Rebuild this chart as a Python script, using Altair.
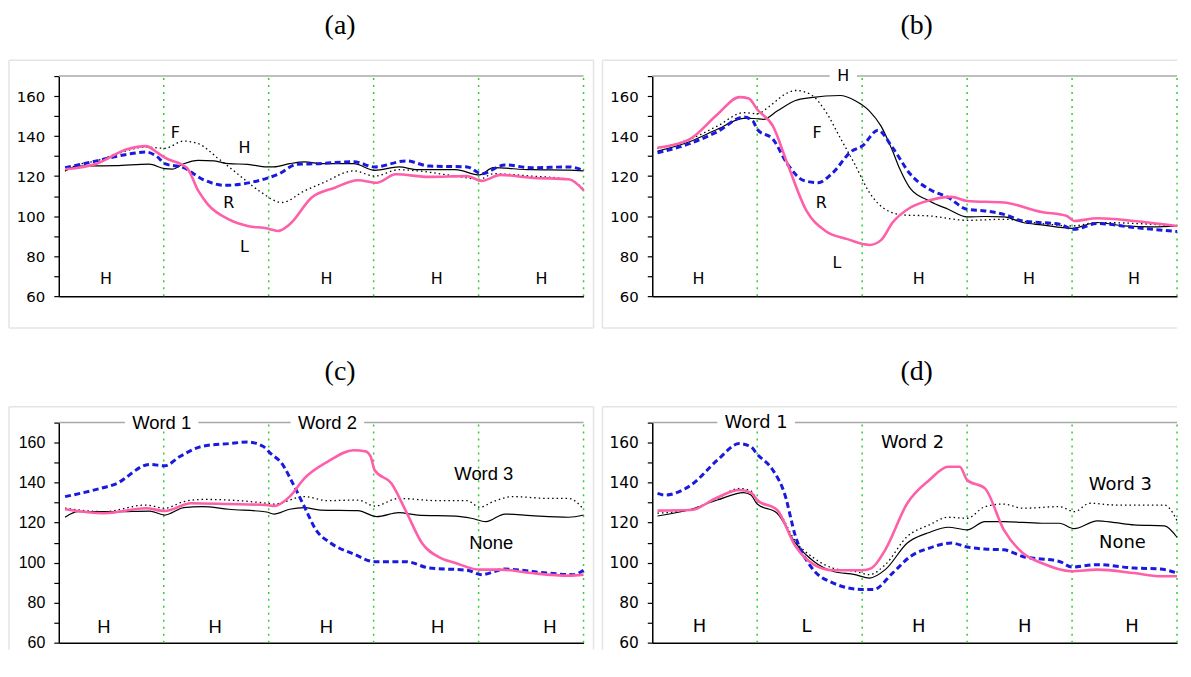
import altair as alt
import pandas as pd

# ---------------- data (x in segment units 0..5, y in Hz) ----------------
# Panel (a)
A_SOLID_X = [0.06, 0.18, 0.54, 0.86, 1.01, 1.08, 1.19, 1.33, 1.48, 1.62, 1.80, 1.98, 2.05, 2.20, 2.34, 2.52, 2.81, 3.01, 3.24, 3.42, 3.78, 4.01, 4.14, 4.50, 4.86, 5.0]
A_SOLID_Y = [122.6, 125.0, 125.2, 126.0, 123.7, 123.5, 126.2, 127.9, 127.6, 126.2, 125.9, 124.6, 124.6, 126.2, 127.1, 126.2, 126.2, 122.9, 124.6, 123.2, 123.2, 120.6, 124.2, 123.2, 123.0, 122.6]
A_DOT_X = [0.06, 0.18, 0.36, 0.54, 0.83, 1.01, 1.19, 1.33, 1.51, 1.69, 1.91, 2.125, 2.34, 2.52, 2.81, 3.01, 3.24, 3.42, 3.78, 4.01, 4.14, 4.50, 4.86, 5.0]
A_DOT_Y = [122.6, 125.6, 127.6, 130.9, 134.5, 133.9, 137.5, 136.2, 129.2, 121.7, 112.6, 106.8, 112.6, 116.7, 122.6, 120.0, 123.2, 122.6, 120.0, 118.4, 121.2, 120.0, 118.4, 113.4]
A_DASH_X = [0.06, 0.36, 0.65, 0.83, 0.94, 1.01, 1.19, 1.37, 1.585, 1.765, 1.98, 2.09, 2.27, 2.45, 2.81, 3.01, 3.31, 3.53, 3.89, 4.03, 4.25, 4.50, 4.86, 5.0]
A_DASH_Y = [124.2, 127.6, 130.9, 132.0, 129.6, 126.2, 124.2, 118.4, 115.4, 116.2, 118.9, 120.9, 125.9, 126.2, 127.2, 124.6, 127.6, 125.0, 124.6, 121.2, 125.6, 124.2, 124.6, 122.9]
A_PINK_X = [0.06, 0.36, 0.65, 0.83, 0.94, 1.01, 1.22, 1.33, 1.42, 1.62, 1.80, 1.98, 2.09, 2.20, 2.41, 2.63, 2.85, 3.03, 3.21, 3.53, 3.89, 4.03, 4.21, 4.50, 4.86, 5.0]
A_PINK_Y = [123.4, 126.2, 133.4, 135.0, 131.7, 129.2, 124.2, 112.6, 105.9, 98.4, 95.1, 93.9, 92.6, 95.9, 109.3, 114.2, 117.9, 116.7, 120.9, 119.6, 120.0, 117.6, 120.6, 119.2, 118.4, 112.9]
A_LABELS = ["F", "H", "R", "L", "H", "H", "H", "H"]
A_LABEL_X = [1.11, 1.77, 1.62, 1.77, 0.45, 2.55, 3.60, 4.60]
A_LABEL_Y = [141.7, 133.9, 106.4, 84.8, 68.5, 68.5, 68.5, 68.5]

# Panel (b)
B_SOLID_X = [0.05, 0.355, 0.62, 0.87, 0.975, 1.06, 1.19, 1.365, 1.51, 1.79, 1.93, 2.07, 2.18, 2.29, 2.36, 2.46, 2.64, 2.82, 3.0, 3.17, 3.35, 3.53, 3.71, 4.0, 4.24, 4.49, 4.77, 5.0]
B_SOLID_Y = [132.5, 137.2, 143.4, 148.9, 148.8, 148.4, 152.5, 157.8, 159.2, 160.3, 157.8, 152.5, 145.0, 132.5, 123.4, 113.7, 107.6, 103.4, 99.6, 99.8, 99.6, 96.8, 95.6, 93.9, 96.8, 95.1, 94.6, 95.1]
B_DOT_X = [0.05, 0.355, 0.62, 0.87, 1.0, 1.12, 1.26, 1.365, 1.51, 1.65, 1.79, 1.93, 2.07, 2.22, 2.39, 2.64, 3.0, 3.35, 3.71, 4.0, 4.24, 4.77, 5.0]
B_DOT_Y = [133.9, 138.4, 145.0, 151.7, 151.2, 155.0, 160.8, 162.8, 160.8, 152.5, 139.2, 125.9, 111.7, 103.4, 100.6, 100.1, 97.9, 98.4, 96.3, 95.1, 96.8, 95.9, 95.1]
B_DASH_X = [0.05, 0.355, 0.62, 0.87, 0.96, 1.0, 1.15, 1.29, 1.44, 1.58, 1.72, 1.90, 2.0, 2.15, 2.29, 2.46, 2.64, 2.82, 3.0, 3.17, 3.35, 3.53, 3.88, 4.02, 4.24, 4.59, 5.0]
B_DASH_Y = [131.7, 136.2, 142.2, 149.5, 147.5, 143.4, 138.4, 125.9, 117.9, 116.7, 121.7, 132.5, 135.0, 142.9, 134.2, 120.9, 113.4, 109.3, 103.4, 102.6, 100.9, 97.6, 95.9, 93.4, 96.3, 94.3, 92.3]
B_PINK_X = [0.05, 0.355, 0.62, 0.83, 0.92, 1.0, 1.15, 1.29, 1.47, 1.65, 1.86, 2.07, 2.18, 2.29, 2.46, 2.64, 2.85, 3.0, 3.35, 3.71, 3.95, 4.02, 4.24, 4.59, 5.0]
B_PINK_Y = [134.2, 138.4, 150.8, 159.5, 158.8, 153.3, 145.0, 125.9, 102.6, 92.6, 88.5, 85.6, 88.0, 96.8, 104.3, 107.9, 109.6, 107.6, 106.8, 102.1, 100.1, 97.6, 98.9, 97.6, 95.1]
B_LABELS = ["H", "F", "R", "L", "H", "H", "H", "H"]
B_LABEL_X = [1.82, 1.57, 1.61, 1.76, 0.44, 2.54, 3.59, 4.59]
B_LABEL_Y = [170.0, 141.7, 106.4, 76.5, 68.5, 68.5, 68.5, 68.5]

# Panel (c)
C_SOLID_X = [0.06, 0.18, 0.54, 0.865, 1.01, 1.19, 1.37, 1.62, 1.98, 2.05, 2.20, 2.34, 2.49, 2.85, 3.03, 3.24, 3.42, 3.78, 3.93, 4.07, 4.25, 4.50, 4.86, 5.0]
C_SOLID_Y = [122.7, 125.5, 125.5, 125.8, 123.8, 127.5, 128.0, 126.7, 125.3, 124.3, 126.7, 127.5, 126.3, 126.0, 123.0, 125.0, 123.8, 123.3, 122.2, 120.5, 124.3, 123.5, 122.7, 123.8]
C_DOT_X = [0.06, 0.43, 0.83, 1.01, 1.19, 1.37, 1.62, 1.98, 2.05, 2.34, 2.56, 2.85, 3.01, 3.24, 3.60, 3.89, 4.01, 4.14, 4.32, 4.68, 4.86, 5.0]
C_DOT_Y = [127.2, 125.5, 128.8, 127.2, 130.5, 131.6, 131.3, 129.7, 129.3, 133.0, 131.0, 131.3, 128.3, 132.1, 131.0, 131.0, 127.7, 130.5, 133.0, 132.1, 132.1, 126.7]
C_DASH_X = [0.06, 0.36, 0.54, 0.865, 1.01, 1.15, 1.37, 1.62, 1.80, 1.945, 2.02, 2.125, 2.23, 2.34, 2.45, 2.59, 2.81, 3.01, 3.31, 3.53, 3.89, 4.03, 4.25, 4.575, 4.90, 5.0]
C_DASH_Y = [133.0, 136.6, 139.3, 149.1, 148.4, 152.9, 158.2, 159.5, 160.3, 158.2, 154.5, 149.6, 139.6, 128.0, 116.4, 109.8, 104.3, 100.5, 100.5, 97.3, 96.2, 94.0, 96.8, 95.2, 94.0, 96.2]
C_PINK_X = [0.06, 0.43, 0.83, 1.01, 1.26, 1.62, 1.98, 2.05, 2.20, 2.34, 2.56, 2.81, 2.92, 2.97, 3.01, 3.17, 3.31, 3.46, 3.64, 3.78, 4.01, 4.21, 4.50, 4.86, 5.0]
C_PINK_Y = [126.7, 124.7, 127.2, 125.8, 129.7, 129.3, 128.8, 128.3, 133.0, 142.1, 150.4, 156.2, 155.7, 153.2, 146.2, 139.6, 125.5, 109.8, 102.3, 99.8, 96.5, 96.5, 94.8, 93.5, 94.0]
C_LABELS = ["Word 1", "Word 2", "Word 3", "None", "H", "H", "H", "H", "H"]
C_LABEL_X = [0.98, 2.56, 4.05, 4.12, 0.43, 1.49, 2.55, 3.61, 4.68]
C_LABEL_Y = [170.0, 170.0, 144.2, 109.8, 68.0, 68.0, 68.0, 68.0, 68.0]

# Panel (d)
D_SOLID_X = [0.05, 0.37, 0.62, 0.87, 0.94, 1.0, 1.19, 1.365, 1.54, 1.72, 1.93, 2.07, 2.22, 2.43, 2.64, 2.82, 3.0, 3.17, 3.35, 3.71, 3.88, 4.02, 4.24, 4.41, 4.59, 4.88, 5.0]
D_SOLID_Y = [123.3, 126.7, 131.3, 135.0, 133.8, 129.3, 124.7, 109.8, 100.6, 95.7, 94.0, 92.3, 96.5, 109.8, 115.1, 117.7, 116.4, 120.5, 120.5, 119.7, 119.7, 117.0, 120.9, 120.0, 118.9, 118.4, 112.7]
D_DOT_X = [0.05, 0.37, 0.62, 0.83, 0.94, 1.0, 1.19, 1.365, 1.54, 1.72, 1.93, 2.07, 2.22, 2.43, 2.64, 2.82, 3.0, 3.17, 3.35, 3.53, 3.88, 4.02, 4.17, 4.41, 4.88, 5.0]
D_DOT_Y = [124.7, 126.7, 132.1, 137.1, 135.9, 131.0, 126.3, 110.6, 102.3, 97.3, 95.7, 94.0, 99.0, 113.1, 118.9, 122.7, 122.2, 128.0, 129.3, 127.2, 128.0, 125.5, 129.7, 128.8, 128.8, 121.0]
D_DASH_X = [0.05, 0.12, 0.37, 0.62, 0.83, 0.94, 1.0, 1.15, 1.26, 1.365, 1.51, 1.72, 2.0, 2.11, 2.29, 2.46, 2.64, 2.85, 3.0, 3.17, 3.35, 3.53, 3.88, 4.0, 4.24, 4.59, 4.84, 5.0]
D_DASH_Y = [134.6, 133.8, 138.8, 151.2, 159.5, 157.9, 154.2, 146.2, 134.6, 113.1, 98.1, 89.9, 86.6, 86.6, 94.8, 103.1, 107.3, 109.8, 107.8, 106.8, 106.4, 103.1, 100.6, 97.8, 99.0, 97.3, 96.8, 94.8]
D_PINK_X = [0.05, 0.37, 0.62, 0.83, 0.94, 1.0, 1.19, 1.365, 1.54, 1.72, 2.0, 2.09, 2.22, 2.43, 2.64, 2.82, 2.93, 3.0, 3.17, 3.35, 3.53, 3.71, 3.99, 4.24, 4.59, 4.84, 5.0]
D_PINK_Y = [126.0, 126.3, 132.6, 136.3, 135.0, 131.3, 126.3, 108.2, 99.0, 96.2, 96.2, 97.3, 106.4, 129.7, 141.3, 147.9, 147.9, 141.3, 137.1, 116.4, 104.8, 99.8, 95.7, 96.5, 94.8, 93.2, 93.2]
D_LABELS = ["Word 1", "Word 2", "Word 3", "None", "H", "L", "H", "H", "H"]
D_LABEL_X = [0.99, 2.48, 4.46, 4.48, 0.45, 1.47, 2.54, 3.55, 4.57]
D_LABEL_Y = [170.0, 160.0, 138.8, 109.8, 68.0, 68.0, 68.0, 68.0, 68.0]

BOUNDARIES = [1, 2, 3, 4, 5]
Y_TICKS = list(range(60, 171, 10))

# ---------------- styling ----------------
W, H = 527, 221
PINK = "#ff5fa8"
BLUE = "#1a1ade"
GREEN = "#33cc33"
FRAME = "#e4e4e4"


def frame_rule(x, x2, y, y2):
    return alt.Chart(pd.DataFrame({"k": [0]})).mark_rule(color=FRAME, strokeWidth=1.5).encode(
        x=alt.value(x), x2=alt.value(x2), y=alt.value(y), y2=alt.value(y2))


def panel(title, dx, series, labels, lx, ly, font, fsize, axis_font, axis_size,
          gap_halfwidths, right_edge, bottom_edge):
    xenc = alt.X("x:Q", scale=alt.Scale(domain=[0, 5], nice=False, zero=False),
                 axis=alt.Axis(labels=False, ticks=False, title=None, grid=False,
                               domainColor="black", domainWidth=1.5))
    yenc = alt.Y("y:Q", scale=alt.Scale(domain=[60, 170], nice=False, zero=False),
                 axis=alt.Axis(values=Y_TICKS, labelExpr="datum.value % 20 == 0 ? datum.label : ''",
                               title=None, grid=False, tickSize=5, tickColor="black",
                               domainColor="black", domainWidth=1.5, tickWidth=1.2,
                               labelFont=axis_font, labelFontSize=axis_size,
                               labelColor="black", labelPadding=9))
    layers = []
    # light frame around the panel (only the edges visible in the picture)
    x_left, y_top = -50, -16
    x_right = W + 10 if right_edge else W
    y_bottom = H + 32 if bottom_edge else H + 7
    layers.append(frame_rule(x_left, x_right, y_top, y_top))
    layers.append(frame_rule(x_left, x_left, y_top, y_bottom))
    if right_edge:
        layers.append(frame_rule(x_right, x_right, y_top, y_bottom))
    if bottom_edge:
        layers.append(frame_rule(x_left, x_right, y_bottom, y_bottom))
    # grey top line
    top = pd.DataFrame({"x": [0], "x2": [5], "y": [170]})
    layers.append(alt.Chart(top).mark_rule(color="#a8a8a8", strokeWidth=1.5).encode(
        x=xenc, x2="x2:Q", y=yenc))
    # green dotted boundaries
    bd = pd.DataFrame({"x": BOUNDARIES, "y": [60] * 5, "y2": [170] * 5})
    layers.append(alt.Chart(bd).mark_rule(color=GREEN, strokeWidth=1.5, strokeDash=[2, 5]).encode(
        x=xenc, y=yenc, y2="y2:Q"))
    # series
    styles = [
        dict(color="black", strokeWidth=1.2),
        dict(color="black", strokeWidth=1.3, strokeDash=[1.5, 3]),
        dict(color=BLUE, strokeWidth=3, strokeDash=[6, 3.5]),
        dict(color=PINK, strokeWidth=2.6),
    ]
    for (xs, ys), st in zip(series, styles):
        df = pd.DataFrame({"x": xs, "y": ys})
        layers.append(alt.Chart(df).mark_line(interpolate="monotone", **st).encode(x=xenc, y=yenc))
    # white gaps in the top line behind labels sitting on it
    gx, gy, gx2, gy2 = [], [], [], []
    for t, x, y in zip(labels, lx, ly):
        if y >= 169.5 and t in gap_halfwidths:
            hw = gap_halfwidths[t]
            gx.append(x - hw); gx2.append(x + hw); gy.append(167.0); gy2.append(173.0)
    if gx:
        gd = pd.DataFrame({"x": gx, "x2": gx2, "y": gy, "y2": gy2})
        layers.append(alt.Chart(gd).mark_rect(color="white").encode(
            x=xenc, x2="x2:Q", y=yenc, y2="y2:Q"))
    td = pd.DataFrame({"x": lx, "y": ly, "t": labels})
    layers.append(alt.Chart(td).mark_text(font=font, fontSize=fsize, color="black",
                                          baseline="middle", align="center").encode(
        x=xenc, y=yenc, text="t:N"))
    return alt.layer(*layers).properties(
        width=W, height=H,
        title=alt.TitleParams(text=title, font="Liberation Serif", fontSize=28,
                              fontWeight="normal", color="black", anchor="middle",
                              frame="group", dx=dx, offset=20))


pa = panel("(a)", 19,
           [(A_SOLID_X, A_SOLID_Y), (A_DOT_X, A_DOT_Y), (A_DASH_X, A_DASH_Y), (A_PINK_X, A_PINK_Y)],
           A_LABELS, A_LABEL_X, A_LABEL_Y, "DejaVu Sans", 16, "DejaVu Sans", 15, {}, True, True)
pb = panel("(b)", 2,
           [(B_SOLID_X, B_SOLID_Y), (B_DOT_X, B_DOT_Y), (B_DASH_X, B_DASH_Y), (B_PINK_X, B_PINK_Y)],
           B_LABELS, B_LABEL_X, B_LABEL_Y, "DejaVu Sans", 16, "DejaVu Sans", 15, {"H": 0.13},
           False, True)
pc = panel("(c)", 19,
           [(C_SOLID_X, C_SOLID_Y), (C_DOT_X, C_DOT_Y), (C_DASH_X, C_DASH_Y), (C_PINK_X, C_PINK_Y)],
           C_LABELS, C_LABEL_X, C_LABEL_Y, "Liberation Sans", 18.5, "Liberation Sans", 16,
           {"Word 1": 0.35, "Word 2": 0.35}, True, False)
pd_ = panel("(d)", 2,
            [(D_SOLID_X, D_SOLID_Y), (D_DOT_X, D_DOT_Y), (D_DASH_X, D_DASH_Y), (D_PINK_X, D_PINK_Y)],
            D_LABELS, D_LABEL_X, D_LABEL_Y, "DejaVu Sans", 18, "DejaVu Sans", 15.5, {"Word 1": 0.37},
            False, False)

chart = alt.concat(pa, pb, pc, pd_, columns=2,
                   spacing=alt.RowColnumber(row=127, column=69), bounds="flush").properties(
    padding={"left": 0, "top": 2, "right": 0, "bottom": 0},
    background="white",
).configure_view(stroke=None)

chart.save("out.html", embed_options={"renderer": "svg", "actions": False})
